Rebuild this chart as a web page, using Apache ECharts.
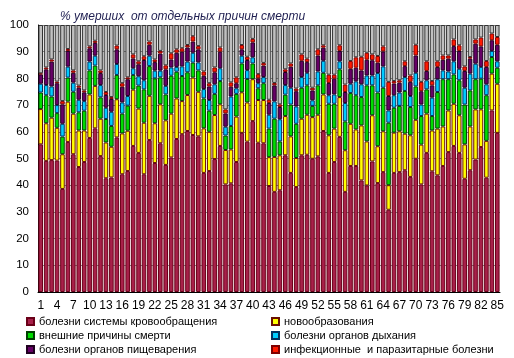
<!DOCTYPE html>
<html><head><meta charset="utf-8">
<script src="https://cdn.jsdelivr.net/npm/echarts@6/dist/echarts.min.js"></script>
<style>html,body{margin:0;padding:0;background:#fff}#c{width:514px;height:358px}</style>
</head><body><div id="c"></div>
<script>
const categories = Array.from({length:85},(_,i)=>String(i+1));
const titleText = '% умерших  от отдельных причин смерти';
const yTicks = [0,10,20,30,40,50,60,70,80,90,100];
const names = ['болезни системы кровообращения','новообразования','внешние причины смерти','болезни органов дыхания','болезни органов пищеварения','инфекционные  и паразитарные болезни'];

const circulatory = [55.3,49.1,49.4,49.2,38.6,56.2,51.6,46.8,48.7,57.7,61.3,50.9,42.6,42.9,57.9,44.1,45.3,54.7,52.1,44.1,56.9,48.3,55.7,47.6,50.4,57.3,59.1,60.3,58.8,58.3,44.6,45.3,49.8,54.7,40.3,40.7,48.7,59.6,56.3,64.0,55.9,55.7,39.7,37.5,38.1,51.2,44.6,39.3,51.2,51.4,49.9,50.8,60.3,44.6,48.7,58.1,37.5,47.2,47.2,41.8,39.9,48.9,40.8,44.9,30.8,44.6,44.9,45.6,43.1,49.9,40.3,52.1,45.2,43.7,47.2,52.4,54.7,52.1,42.4,45.6,49.6,54.3,42.8,68.0,59.6];
const neoplasms = [13.2,14.1,15.9,12.3,13.0,15.1,15.2,13.7,11.8,16.3,15.9,14.0,13.4,11.5,14.3,15.3,15.1,21.1,16.6,19.3,16.6,14.9,14.6,16.7,16.4,15.2,12.4,13.5,21.5,16.7,16.7,14.7,16.5,15.6,12.9,12.7,17.0,15.2,14.7,15.7,16.0,16.2,10.8,13.1,13.1,14.7,13.7,10.9,13.7,15.0,15.6,15.6,13.7,14.1,12.5,14.9,15.6,15.8,13.7,20.6,16.5,17.3,13.8,15.3,9.2,15.1,15.3,13.7,15.6,14.6,14.9,14.7,15.3,17.5,14.8,15.6,15.8,14.1,12.9,16.4,18.8,14.1,13.8,13.8,18.4];
const external = [6.2,10.5,7.9,5.5,6.6,9.0,8.2,6.8,7.4,9.0,7.6,8.0,8.8,7.8,9.1,7.4,9.4,5.5,8.6,12.5,11.1,16.8,10.1,9.7,14.2,10.0,9.4,8.5,5.6,8.0,11.2,7.9,7.9,8.7,5.4,8.8,8.5,10.8,8.8,5.9,4.4,6.3,10.7,14.3,5.2,8.0,11.9,12.8,11.6,11.0,4.2,11.0,8.1,11.8,9.3,10.4,10.8,11.5,12.8,10.6,21.0,11.2,20.1,16.3,23.4,9.3,9.5,16.0,10.6,12.5,10.7,9.1,5.4,13.7,17.7,11.7,11.0,13.1,14.9,13.5,11.3,11.5,17.1,6.2,6.0];
const respiratory = [3.3,3.8,3.8,3.0,4.8,4.1,3.4,4.7,3.6,3.3,3.7,4.6,4.2,5.3,4.1,4.2,3.6,2.5,3.5,3.4,3.9,2.9,2.5,3.2,3.1,1.8,3.6,4.0,3.7,3.0,3.5,4.0,3.6,4.8,3.3,11.0,2.1,2.9,3.3,2.3,1.9,2.3,5.2,6.5,8.3,3.6,6.3,6.5,4.0,4.7,2.1,5.2,4.5,3.2,3.5,3.0,6.9,3.5,5.2,4.8,3.7,3.7,7.3,8.0,4.6,4.7,5.0,5.2,4.1,5.1,4.3,3.4,6.9,4.8,3.3,2.9,4.9,4.3,6.3,6.3,5.8,4.4,4.1,2.3,2.4];
const digestive = [3.5,5.9,9.3,8.2,7.3,5.9,3.7,4.5,3.3,5.0,4.8,4.5,4.8,4.8,5.5,5.9,6.3,3.7,4.5,7.6,4.1,3.2,6.4,6.2,3.0,5.3,5.5,5.3,4.2,4.9,5.0,5.1,4.5,6.2,5.0,3.7,1.9,2.4,3.8,5.6,1.8,4.3,4.4,6.0,4.6,4.9,7.9,5.7,6.1,4.0,3.7,6.0,4.9,4.6,5.9,3.9,4.1,5.6,5.1,5.2,5.9,5.7,3.9,5.6,5.4,4.4,3.7,4.1,5.3,6.5,5.0,3.5,4.6,4.6,4.0,4.8,5.7,6.7,6.3,5.6,7.5,7.7,6.5,4.0,6.2];
const infectious = [0.4,0.7,0.8,0.6,1.2,0.7,0.9,0.8,0.7,0.7,0.8,1.0,1.1,0.7,1.4,1.3,0.7,1.5,1.1,1.4,1.2,1.0,1.0,1.5,2.3,1.3,1.3,0.9,2.0,1.2,1.6,1.2,1.8,1.6,1.5,1.6,2.2,1.6,1.2,1.3,1.6,1.0,1.2,0.9,1.0,1.0,1.2,1.0,2.4,1.3,1.0,2.3,0.9,3.1,1.5,2.1,2.8,2.9,3.9,5.1,2.6,2.2,2.5,1.9,5.3,0.9,0.9,1.8,2.4,4.0,3.5,3.6,1.6,2.1,1.6,1.2,2.5,2.1,1.7,0.6,1.6,3.3,2.2,2.5,2.9];
const other = [18.1,15.9,12.9,21.2,28.5,9.0,17.0,22.7,24.5,8.0,5.9,17.0,25.1,27.0,7.7,21.8,19.6,11.0,13.6,11.7,6.2,12.9,9.7,15.1,10.6,9.1,8.7,7.5,4.2,7.9,17.4,21.8,15.9,8.4,31.6,21.5,19.6,7.5,11.9,5.2,18.4,14.2,28.0,21.7,29.7,16.6,14.4,23.8,11.0,12.6,23.5,9.1,7.6,18.6,18.6,7.6,22.3,13.5,12.1,11.9,10.4,11.0,11.6,8.0,21.3,21.0,20.7,13.6,18.9,7.4,21.3,13.6,21.0,13.6,11.4,11.4,5.4,7.6,15.5,12.0,5.4,4.7,13.5,3.2,4.5];

const colors = ['#A8204A','#FFFF00','#00DD00','#00CCFF','#660066','#FF1A00'];
const borders = ['#6A0018','#6A1000','#004000','#003060','#200020','#800000'];
const datasets = [circulatory, neoplasms, external, respiratory, digestive, infectious];

const FONT = '"Liberation Sans", Arial, sans-serif';
const series = datasets.map((d,i)=>({
  name: names[i], type:'bar', stack:'s', data:d, barCategoryGap:'16%',
  itemStyle:{color:colors[i], borderColor:borders[i], borderWidth:1},
  emphasis:{disabled:true}
}));
series.push({name:'прочие', type:'bar', stack:'s', data:other,
  itemStyle:{color:'#C0C0C0', borderColor:'#333333', borderWidth:1}, emphasis:{disabled:true}});

const legendBase = {orient:'vertical', top:315, bottom:0, padding:0, itemWidth:7, itemHeight:7, itemGap:1,
  icon:'rect', textStyle:{fontFamily:FONT, fontSize:11, color:'#000', lineHeight:13}};

const chart = echarts.init(document.getElementById('c'), null, {renderer:'canvas'});
chart.setOption({
  animation:false,
  title:{text:titleText, left:55, top:6, textStyle:{fontFamily:FONT, fontSize:12, fontStyle:'italic', fontWeight:'normal', color:'#1E1E50'}},
  grid:{left:38, right:14, top:25, bottom:66},
  xAxis:{type:'category', data:categories,
    axisLine:{lineStyle:{color:'#000'}}, axisTick:{show:false},
    axisLabel:{interval:2, fontFamily:FONT, fontSize:12, color:'#000', margin:8}},
  yAxis:{type:'value', min:0, max:100, interval:10,
    axisLine:{show:true, lineStyle:{color:'#000'}}, axisTick:{show:false},
    splitLine:{show:true, lineStyle:{color:'#8a8a8a', width:1}},
    axisLabel:{fontFamily:FONT, fontSize:11.5, color:'#000', margin:9,
      formatter:v=>yTicks.includes(v)?String(v):''}},
  legend:[
    Object.assign({data:[names[0],names[2],names[4]], left:26}, legendBase),
    Object.assign({data:[names[1],names[3],names[5]], left:271}, legendBase)
  ],
  series: series
});
</script></body></html>
